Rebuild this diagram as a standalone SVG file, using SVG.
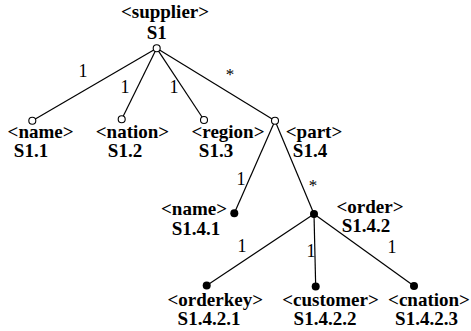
<svg xmlns="http://www.w3.org/2000/svg" width="471" height="331" viewBox="0 0 471 331">
<style>
.t{font-family:"Liberation Serif","Times New Roman",serif;font-weight:bold;font-size:19px;fill:#000}
.e{font-family:"Liberation Serif","Times New Roman",serif;font-size:18px;fill:#000}
.s{font-family:"Liberation Serif","Times New Roman",serif;font-size:17px;fill:#000}
.c{stroke:#000;stroke-width:1.2;fill:none}
.o{fill:#fff;stroke:#000;stroke-width:1.1}
.f{fill:#000}
</style>
<rect width="471" height="331" fill="#fff"/>
<g id="connectors">
<line class="c" x1="156.7" y1="48.3" x2="32.3" y2="120.7"/>
<line class="c" x1="156.7" y1="48.3" x2="121.7" y2="119.3"/>
<line class="c" x1="156.7" y1="48.3" x2="204" y2="120"/>
<line class="c" x1="156.7" y1="48.3" x2="275" y2="120.7"/>
<line class="c" x1="275" y1="120.7" x2="234.3" y2="213.3"/>
<line class="c" x1="275" y1="120.7" x2="314" y2="214"/>
<line class="c" x1="314" y1="214" x2="206.7" y2="285.5"/>
<line class="c" x1="314" y1="214" x2="315.7" y2="286.5"/>
<line class="c" x1="314" y1="214" x2="414" y2="286"/>
<text class="e" x="83" y="77" text-anchor="middle">1</text>
<text class="e" x="125" y="93" text-anchor="middle">1</text>
<text class="e" x="174" y="93" text-anchor="middle">1</text>
<text class="s" x="230" y="80" text-anchor="middle">*</text>
<text class="e" x="241" y="185" text-anchor="middle">1</text>
<text class="s" x="313" y="191" text-anchor="middle">*</text>
<text class="e" x="242" y="252" text-anchor="middle">1</text>
<text class="e" x="311" y="257" text-anchor="middle">1</text>
<text class="e" x="392" y="253" text-anchor="middle">1</text>
</g>
<g id="supplier">
<circle class="o" cx="156.7" cy="48.3" r="3.5"/>
<text class="t" x="165" y="18" text-anchor="middle">&lt;supplier&gt;</text>
<text class="t" x="156.7" y="39" text-anchor="middle">S1</text>
</g>
<g id="name">
<circle class="o" cx="32.3" cy="120.7" r="3.5"/>
<text class="t" x="40.6" y="138" text-anchor="middle">&lt;name&gt;</text>
<text class="t" x="31" y="157" text-anchor="middle">S1.1</text>
</g>
<g id="nation">
<circle class="o" cx="121.7" cy="119.3" r="3.5"/>
<text class="t" x="132.5" y="138" text-anchor="middle">&lt;nation&gt;</text>
<text class="t" x="125" y="157" text-anchor="middle">S1.2</text>
</g>
<g id="region">
<circle class="o" cx="204" cy="120" r="3.5"/>
<text class="t" x="228" y="138" text-anchor="middle">&lt;region&gt;</text>
<text class="t" x="216" y="157" text-anchor="middle">S1.3</text>
</g>
<g id="part">
<circle class="o" cx="275" cy="120.7" r="3.5"/>
<text class="t" x="314" y="138" text-anchor="middle">&lt;part&gt;</text>
<text class="t" x="310" y="157" text-anchor="middle">S1.4</text>
</g>
<g id="part-name">
<circle class="f" cx="234.3" cy="213.3" r="4"/>
<text class="t" x="194" y="215" text-anchor="middle">&lt;name&gt;</text>
<text class="t" x="196" y="235" text-anchor="middle">S1.4.1</text>
</g>
<g id="order">
<circle class="f" cx="314" cy="214" r="4"/>
<text class="t" x="370" y="213" text-anchor="middle">&lt;order&gt;</text>
<text class="t" x="366" y="232" text-anchor="middle">S1.4.2</text>
</g>
<g id="orderkey">
<circle class="f" cx="206.7" cy="285.5" r="4"/>
<text class="t" x="215.3" y="306" text-anchor="middle">&lt;orderkey&gt;</text>
<text class="t" x="209" y="325" text-anchor="middle">S1.4.2.1</text>
</g>
<g id="customer">
<circle class="f" cx="315.7" cy="286.5" r="4"/>
<text class="t" x="330.5" y="306" text-anchor="middle">&lt;customer&gt;</text>
<text class="t" x="325" y="325" text-anchor="middle">S1.4.2.2</text>
</g>
<g id="cnation">
<circle class="f" cx="414" cy="286" r="4"/>
<text class="t" x="429" y="306" text-anchor="middle">&lt;cnation&gt;</text>
<text class="t" x="426.5" y="325" text-anchor="middle">S1.4.2.3</text>
</g>
</svg>
